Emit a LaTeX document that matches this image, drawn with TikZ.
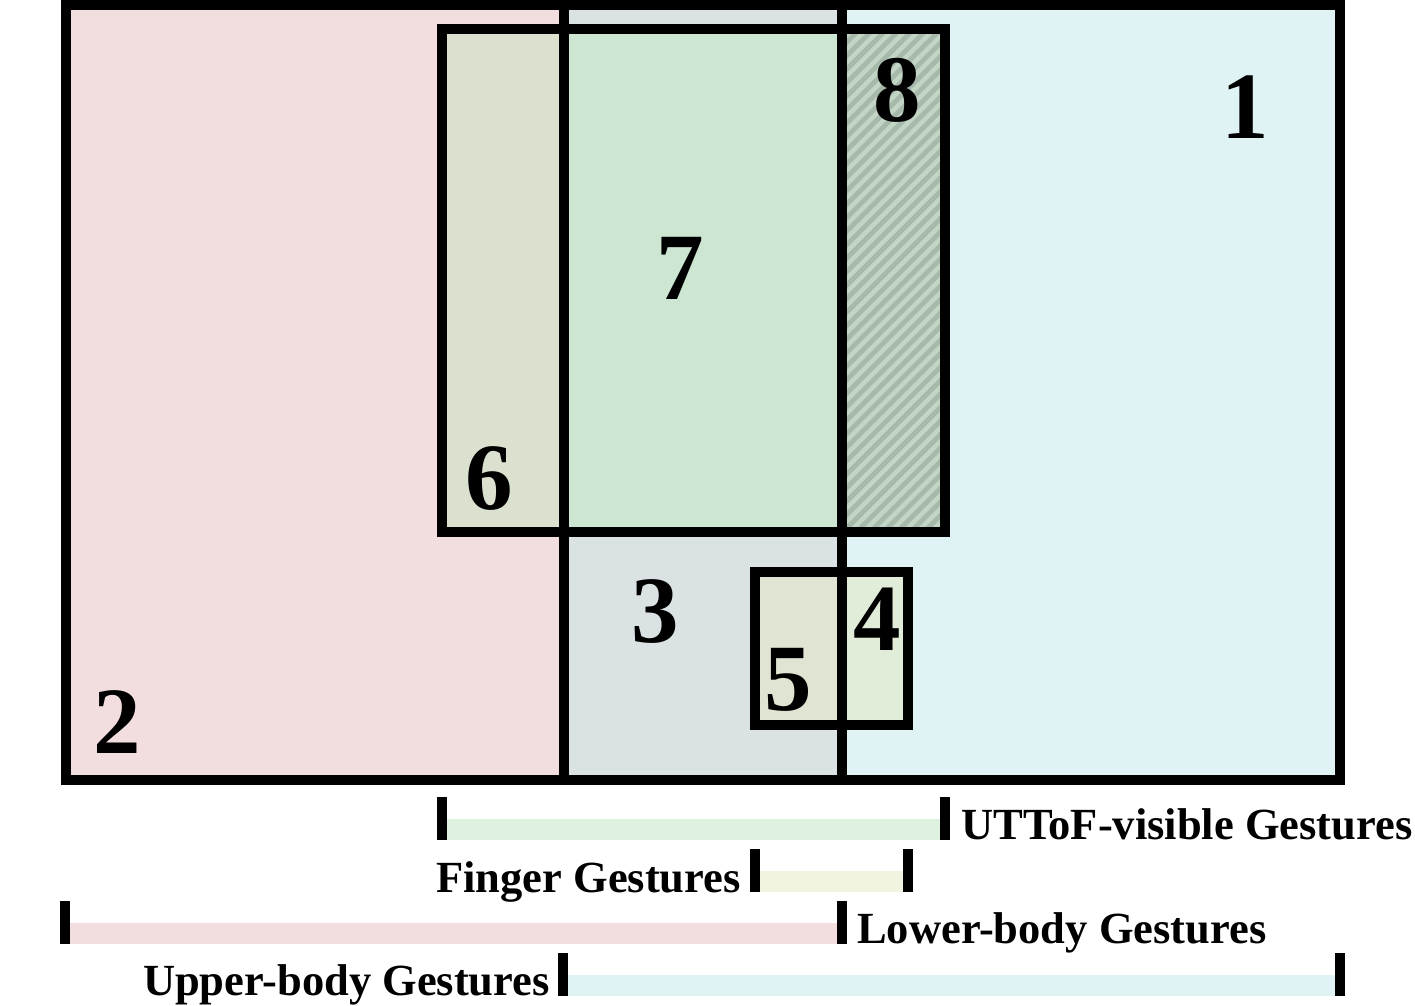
\documentclass[tikz,border=0pt]{standalone}
\usepackage{fontspec}
\setmainfont{Liberation Serif}
\usepackage{tikz}
\usetikzlibrary{calc}
\definecolor{gsupper}{HTML}{DFF3F5}
\definecolor{gslower}{HTML}{F2DEDE}
\definecolor{gsboth}{HTML}{DAE2E4}
\definecolor{gsuttof}{HTML}{DEF2DF}
\definecolor{gsfinger}{HTML}{F0F3DE}
\definecolor{gssix}{HTML}{DAE2CF}
\definecolor{gsseven}{HTML}{CCE6D1}
\definecolor{gseight}{HTML}{C3D6C6}
\definecolor{gshatch}{HTML}{A7B9AA}
\definecolor{gsfive}{HTML}{DFE5D2}
\definecolor{gsfour}{HTML}{E1EDD8}

\begin{document}
\begin{tikzpicture}[x=1pt,y=-1pt,line cap=butt,
  frame/.style={draw=black,line width=10pt},
  tickbar/.style={draw=black,line width=10pt},
  num/.style={font=\fontsize{95}{95}\selectfont\bfseries,inner sep=0pt},
  tag/.style={font=\fontsize{44.5}{50}\selectfont\bfseries,inner sep=0pt}]
\path[use as bounding box] (0,0) rectangle (1415,1005);
\fill[white] (0,0) rectangle (1415,1005);

% 底色：下身 / 两者 / 上身
\fill[gslower] (66,5) rectangle (564,780);
\fill[gsboth] (564,5) rectangle (842,780);
\fill[gsupper] (842,5) rectangle (1340,780);
% UTToF 可见区域
\fill[gssix] (442,29) rectangle (564,532);
\fill[gsseven] (564,29) rectangle (842,532);
\begin{scope}
  \clip (842,29) rectangle (945,532);
  \fill[gseight] (842,29) rectangle (945,532);
  \foreach \x in {330,343.5,...,960}
    \draw[gshatch,line width=4.8pt] (\x,532)--(\x+503,29);
\end{scope}
% 手指手势
\fill[gsfive] (755,572) rectangle (842,725);
\fill[gsfour] (842,572) rectangle (908,725);

% 边框
\draw[frame] (66,5) rectangle (1340,780);
\draw[frame] (564,5)--(564,780);
\draw[frame] (842,5)--(842,780);
\draw[frame] (442,29) rectangle (945,532);
\draw[frame] (755,572) rectangle (908,725);

% 区域编号
\node[num] (n1) at (1245,107) {1};
\node[num] (n2) at (117,722) {2};
\node[num] (n3) at (655,611) {3};
\node[num] (n4) at (877,619) {4};
\node[num] (n5) at (788,680) {5};
\node[num] (n6) at (489,479) {6};
\node[num] (n7) at (680,268) {7};
\node[num] (n8) at (897,90) {8};

% 图例条
\fill[gsuttof] (447,819) rectangle (940,840);
\draw[tickbar] (442,797)--(442,840);
\draw[tickbar] (945,797)--(945,840);
\node[tag,anchor=base west] (lbuttof) at (961,839) {UTToF-visible Gestures};

\fill[gsfinger] (760,871) rectangle (903,892);
\draw[tickbar] (755,849)--(755,892);
\draw[tickbar] (908,849)--(908,892);
\node[tag,anchor=base west] (lbfinger) at (436,892) {Finger Gestures};

\fill[gslower] (70,923) rectangle (837,944);
\draw[tickbar] (65,901)--(65,944);
\draw[tickbar] (842,901)--(842,944);
\node[tag,anchor=base west] (lblower) at (857,943) {Lower-body Gestures};

\fill[gsupper] (568,975) rectangle (1335,996);
\draw[tickbar] (563,953)--(563,996);
\draw[tickbar] (1340,953)--(1340,996);
\node[tag,anchor=base east] (lbupper) at (550,995) {Upper-body Gestures};
\end{tikzpicture}
\end{document}
